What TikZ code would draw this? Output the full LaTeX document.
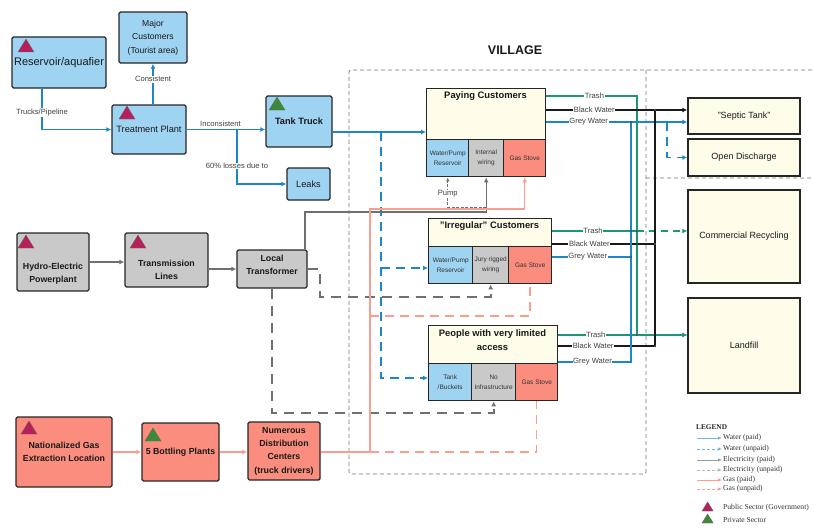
\documentclass[tikz,border=0pt]{standalone}
\usepackage{fontspec}
\setmainfont{Liberation Sans}
\newfontfamily\legendfont{Liberation Serif}
\usetikzlibrary{arrows.meta,positioning}

\definecolor{waterfill}{RGB}{158,211,242}
\definecolor{elecfill}{RGB}{201,201,201}
\definecolor{gasfill}{RGB}{250,141,125}
\definecolor{userfill}{RGB}{253,253,233}
\definecolor{waterln}{RGB}{28,134,200}
\definecolor{elecln}{RGB}{112,112,112}
\definecolor{gasln}{RGB}{250,158,143}
\definecolor{trashln}{RGB}{28,150,118}
\definecolor{pubsec}{RGB}{181,32,92}
\definecolor{privsec}{RGB}{62,136,58}

\newcommand{\sectormark}[4][1]{\fill[#2,draw=black!60,line width=.3pt] (#3,#4) -- ++({16*#1},0) -- ++({-8*#1},{-13*#1}) -- cycle;}

\tikzset{
	box/.style={draw=black!85,line width=1.4pt,rounded corners=1.5pt,inner sep=0pt,align=center,text=black!90},
	wbox/.style={box,fill=waterfill},
	ebox/.style={box,fill=elecfill},
	gbox/.style={box,fill=gasfill,font=\bfseries\fontsize{8.8}{13.6}\selectfont},
	ubox/.style={box,fill=userfill,rounded corners=0pt,font=\fontsize{9}{11}\selectfont},
	etxt/.style={inner sep=0pt,align=center,text=black!90,font=\bfseries\fontsize{8.8}{13.5}\selectfont},
	hdr/.style={inner sep=0pt,align=center,text=black!90,font=\bfseries\fontsize{9.4}{14}\selectfont},
	sub/.style={draw=black!85,line width=1.4pt,inner sep=0pt,align=center,anchor=north west,minimum height=37pt,text=black!80,font=\fontsize{6.5}{10}\selectfont},
	lbl/.style={fill=white,inner sep=.6pt,text=black!75,font=\fontsize{7.6}{8}\selectfont},
	lgtxt/.style={anchor=west,inner sep=0pt,text=black!80,font=\legendfont\fontsize{7.6}{8}\selectfont},
	tip/.style={-{Latex[length=5pt,width=5pt]}},
	wtr/.style={draw=waterln,line width=1.5pt,tip},
	wtru/.style={wtr,dash pattern=on 9pt off 6pt},
	elc/.style={draw=elecln,line width=1.3pt,tip},
	elcp/.style={draw=elecln,line width=.7pt,dash pattern=on 3pt off 1.5pt,-{Latex[length=4pt,width=3.5pt]}},
	elcu/.style={elc,line width=1.7pt,dash pattern=on 10pt off 7pt},
	gasa/.style={draw=gasln,line width=1.5pt,tip},
	gasu/.style={draw=gasln,line width=1.5pt,dash pattern=on 9pt off 6pt},
	trsh/.style={draw=trashln,line width=1.6pt,tip},
	trshu/.style={trsh,dash pattern=on 7pt off 5pt},
	blkw/.style={draw=black!90,line width=1.3pt,tip},
	grw/.style={draw=waterln,line width=1.5pt,tip},
	grwu/.style={grw,dash pattern=on 9pt off 6pt},
	vlg/.style={draw=black!55,line width=.8pt,dash pattern=on 4pt off 3pt,rounded corners=2pt}
}

\begin{document}
\begin{tikzpicture}[x=1pt,y=-1pt]
	\useasboundingbox (0,0) rectangle (813,527);
	\draw[vlg] (812,70) -- (349,70) -- (349,474) -- (646,474) -- (646,70) (646,178) -- (812,178);
	\node[font=\bfseries\fontsize{12.5}{14}\selectfont,text=black!90] (vil) at (515,50) {VILLAGE};

	\node[wbox,minimum width=94pt,minimum height=51pt,font=\fontsize{11}{13}\selectfont] (res) at (59,62.5) {Reservoir/aquafier};
	\node[wbox,minimum width=68pt,minimum height=51pt,font=\fontsize{8.6}{13.5}\selectfont] (maj) at (153,37.5) {Major\\Customers\\(Tourist area)};
	\node[wbox,minimum width=74pt,minimum height=49pt,font=\fontsize{9.2}{11}\selectfont] (tp) at (149,129.5) {Treatment Plant};
	\node[wbox,minimum width=66pt,minimum height=51pt,font=\bfseries\fontsize{9.2}{11}\selectfont] (tt) at (299,121.5) {Tank Truck};
	\node[wbox,minimum width=43pt,minimum height=32pt,font=\fontsize{9.2}{11}\selectfont] (leak) at (308.5,184) {Leaks};
	\sectormark{pubsec}{18}{52}
	\sectormark{pubsec}{119}{119}
	\sectormark{privsec}{269}{110}

	\node[ebox,minimum width=72pt,minimum height=58pt] (hyd) at (53,262) {};
	\node[etxt] (hydt) at (53,273.5) {Hydro-Electric\\Powerplant};
	\node[ebox,minimum width=83pt,minimum height=54pt] (trl) at (166.5,260) {};
	\node[etxt] (trlt) at (166.5,270) {Transmission\\Lines};
	\node[ebox,minimum width=70pt,minimum height=38pt] (ltr) at (272,269) {};
	\node[etxt] (ltrt) at (272,265) {Local\\Transformer};
	\sectormark{pubsec}{18}{248}
	\sectormark{pubsec}{130}{248}

	\node[gbox,minimum width=96pt,minimum height=70pt] (gex) at (64,452) {Nationalized Gas\\Extraction Location};
	\node[gbox,minimum width=77pt,minimum height=58pt] (btl) at (180.5,452) {5 Bottling Plants};
	\node[gbox,minimum width=72pt,minimum height=58pt,font=\bfseries\fontsize{8.8}{13.3}\selectfont] (dst) at (284,451) {Numerous\\Distribution\\Centers\\(truck drivers)};
	\sectormark{pubsec}{21}{434}
	\sectormark{privsec}{145}{441}

	\node[ubox,anchor=north west,minimum width=119pt,minimum height=51pt] (pay) at (426,88) {};
	\node[hdr] (payt) at (485.5,96) {Paying Customers};
	\node[sub,fill=waterfill,minimum width=42pt] (pwat) at (426,139) {Water/Pump\\Reservoir};
	\node[sub,fill=elecfill,minimum width=35pt] (pwir) at (468,139) {Internal\\wiring};
	\node[sub,fill=gasfill,minimum width=42pt] (pgas) at (503,139) {Gas Stove};

	\node[ubox,anchor=north west,minimum width=123pt,minimum height=28pt] (irr) at (428,218) {};
	\node[hdr] (irrt) at (489.5,226) {"Irregular" Customers};
	\node[sub,fill=waterfill,minimum width=44pt] (iwat) at (428,246) {Water/Pump\\Reservoir};
	\node[sub,fill=elecfill,minimum width=36pt] (iwir) at (472,246) {Jury rigged\\wiring};
	\node[sub,fill=gasfill,minimum width=43pt] (igas) at (508,246) {Gas Stove};

	\node[ubox,anchor=north west,minimum width=129pt,minimum height=38pt] (lim) at (428,325) {};
	\node[hdr] (limt) at (492.5,340) {People with very limited\\access};
	\node[sub,fill=waterfill,minimum width=43pt] (lwat) at (428,363) {Tank\\/Buckets};
	\node[sub,fill=elecfill,minimum width=44pt] (lwir) at (471,363) {No\\Infrastructure};
	\node[sub,fill=gasfill,minimum width=42pt] (lgas) at (515,363) {Gas Stove};

	\node[ubox,minimum width=112pt,minimum height=36pt] (sep) at (744,116) {"Septic Tank"};
	\node[ubox,minimum width=112pt,minimum height=37pt] (odis) at (744,157.5) {Open Discharge};
	\node[ubox,minimum width=112pt,minimum height=93pt] (crec) at (744,236.5) {Commercial Recycling};
	\node[ubox,minimum width=112pt,minimum height=95pt] (lfil) at (744,345.5) {Landfill};

	\coordinate (lsplit) at (237,129.5);
	\coordinate (wsplit) at (381,132);
	\coordinate (wsplit2) at (381,268);
	\coordinate (gsplit) at (370,316);
	\coordinate (gsplit2) at (370,452);
	\coordinate (odsplit) at (667,122);

	\draw[wtr] (res.south -| 42,0) |- (tp.west) node[lbl,pos=0.29] {Trucks/Pipeline};
	\draw[wtr] (tp.north -| maj.south) -- (maj.south) node[lbl,pos=0.62] {Consistent};
	\draw[wtr] (tp.east) -- (tp.east -| tt.west) node[lbl,above=2pt,pos=0.43,fill=none] {Inconsistent};
	\draw[wtr] (lsplit) |- (leak.west) node[lbl,pos=0.335] {60\% losses due to};
	\draw[wtr] (tt.east |- 0,132) -- (pay.west |- 0,132);
	\draw[wtru] (wsplit) |- (lwat.west |- 0,378);
	\draw[wtru] (wsplit2) -- (iwat.west |- 0,268);

	\draw[elc] (hyd.east) -- (hyd.east -| trl.west);
	\draw[elc] (trl.east |- ltr.west) -- (ltr.west);
	\draw[elc] (ltr.north -| 305,0) -- (305,212) -| (pwir.south);
	\draw[elcp] (pwir.south |- 0,207) -| (pwat.south) node[lbl,pos=0.72] {Pump};
	\draw[elcu] (ltr.east) -- ++(12,0) |- (iwir.south |- 0,297) -- (iwir.south);
	\draw[elcu] (ltr.south) |- (lwir.south |- 0,413) -- (lwir.south);

	\draw[gasa] (gex.east) -- (btl.west);
	\draw[gasa] (btl.east) -- (dst.west |- btl.east);
	\draw[gasa] (dst.east |- btl.east) -| (370,209) -| (pgas.south);
	\draw[gasu] (gsplit) -| (igas.south);
	\draw[gasu] (gsplit2) -| (lgas.south);

	\draw[trsh] (pay.east |- 0,96) -- node[lbl,pos=0.53] {Trash} (637,96) |- (lfil.west |- 0,335);
	\draw[blkw] (pay.east |- 0,110) -- node[lbl,pos=0.34] {Black Water} (sep.west |- 0,110);
	\draw[grw] (pay.east |- 0,122) -- node[lbl,pos=0.3] {Grey Water} (sep.west |- 0,122);
	\draw[grwu] (odsplit) |- (odis.west);

	\draw[trsh,-] (irr.east |- 0,231) -- node[lbl,pos=0.48] {Trash} (637,231);
	\draw[trshu] (637,231) -- (crec.west |- 0,231);
	\draw[blkw,-] (irr.east |- 0,244) -- node[lbl,pos=0.36] {Black Water} (655,244);
	\draw[grw,-] (igas.east |- 0,257) -- node[lbl,pos=0.45] {Grey Water} (631,257);

	\draw[trsh] (lim.east |- 0,335) -- node[lbl,pos=0.29] {Trash} (lfil.west |- 0,335);
	\draw[blkw,-] (lim.east |- 0,346) -- node[lbl,pos=0.36] {Black Water} (655,346) -- (655,110);
	\draw[grw,-] (lim.east |- 0,362) -- node[lbl,pos=0.47] {Grey Water} (631,362) -- (631,122);

	\foreach \p in {(631,122),(655,110),(637,231),(655,244),(631,257),(637,335),(655,346),(631,231),(637,244)}
		\fill[black!70] \p circle (1.1pt);

	\node[anchor=west,inner sep=0pt,text=black!85,font=\legendfont\bfseries\fontsize{7.3}{8}\selectfont] (lgd) at (696,427) {LEGEND};
	\node[lgtxt] (lg1) at (723,438) {Water (paid)};
	\node[lgtxt] (lg2) at (723,449) {Water (unpaid)};
	\node[lgtxt] (lg3) at (723,460) {Electricity (paid)};
	\node[lgtxt] (lg4) at (723,470) {Electricity (unpaid)};
	\node[lgtxt] (lg5) at (723,480) {Gas (paid)};
	\node[lgtxt] (lg6) at (723,489) {Gas (unpaid)};
	\node[lgtxt] (lg7) at (723,508) {Public Sector (Government)};
	\node[lgtxt] (lg8) at (723,520) {Private Sector};
	\draw[wtr,line width=.7pt,draw=waterln!60,-{Latex[length=4pt,width=3.5pt]}] ([xshift=-26pt]lg1.west) -- ([xshift=-1pt]lg1.west);
	\draw[wtr,line width=.7pt,draw=waterln!60,dash pattern=on 3pt off 2pt,-{Latex[length=4pt,width=3.5pt]}] ([xshift=-26pt]lg2.west) -- ([xshift=-1pt]lg2.west);
	\draw[elc,line width=.7pt,draw=elecln!70,-{Latex[length=4pt,width=3.5pt]}] ([xshift=-26pt]lg3.west) -- ([xshift=-1pt]lg3.west);
	\draw[elc,line width=.7pt,draw=elecln!50,dash pattern=on 3pt off 2pt,-{Latex[length=4pt,width=3.5pt]}] ([xshift=-26pt]lg4.west) -- ([xshift=-1pt]lg4.west);
	\draw[gasa,line width=.7pt,-{Latex[length=4pt,width=3.5pt]}] ([xshift=-26pt]lg5.west) -- ([xshift=-1pt]lg5.west);
	\draw[gasa,line width=.7pt,dash pattern=on 3pt off 2pt,-{Latex[length=4pt,width=3.5pt]}] ([xshift=-26pt]lg6.west) -- ([xshift=-1pt]lg6.west);
	\sectormark[0.7]{pubsec}{702}{511}
	\sectormark[0.7]{privsec}{702}{523}
\end{tikzpicture}
\end{document}
